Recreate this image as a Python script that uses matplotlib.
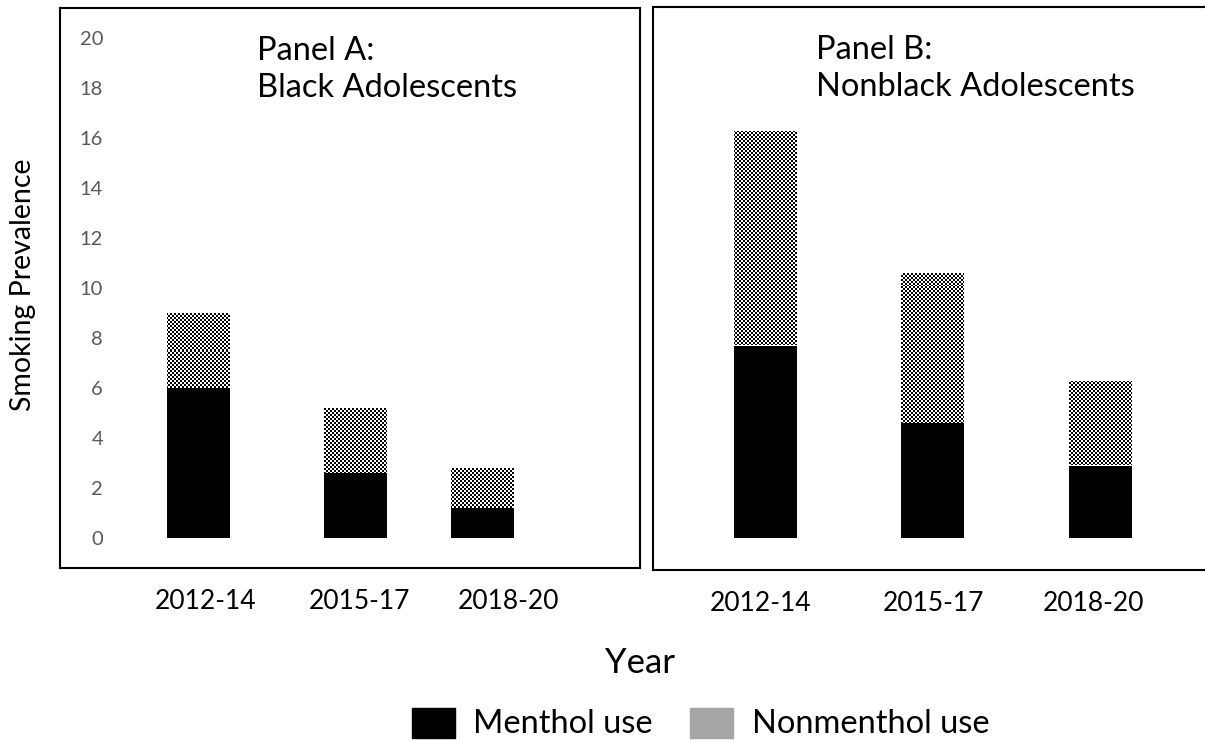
import numpy as np
import matplotlib
matplotlib.use("Agg")
import matplotlib.pyplot as plt
from matplotlib.patches import Rectangle

plt.rcParams['font.family'] = ['Lato', 'DejaVu Sans']

# ---------------- data ----------------
periods = ["2012-14", "2015-17", "2018-20"]
black_menthol = [6.0, 2.6, 1.2]
black_nonmenthol = [3.0, 2.6, 1.6]
nonblack_menthol = [7.7, 4.6, 2.9]
nonblack_nonmenthol = [8.6, 6.0, 3.4]
yticks = [0, 2, 4, 6, 8, 10, 12, 14, 16, 18, 20]
panel_a_title = "Panel A:\nBlack Adolescents"
panel_b_title = "Panel B:\nNonblack Adolescents"
y_label = "Smoking Prevalence"
x_label = "Year"
legend_labels = ["Menthol use", "Nonmenthol use"]

# ---------------- layout ----------------
W, H, DPI = 1205, 740, 100
fig = plt.figure(figsize=(W / DPI, H / DPI), dpi=DPI)


def fr(x0, y_top, x1, y_bot):
    return [x0 / W, (H - y_bot) / H, (x1 - x0) / W, (y_bot - y_top) / H]


axA = fig.add_axes(fr(60, 8, 640, 568))
axB = fig.add_axes(fr(653, 7, 1215, 570))

posA = [0.0, 1.0, 1.81]
labA = [0.045, 1.03, 1.98]
posB = [0.0, 1.0, 2.0]
labB = [-0.024, 1.003, 1.96]

checker_cell = 2  # px


def checker(ax):
    fig.canvas.draw()
    bb = ax.get_window_extent()
    nx = int(round(bb.width / checker_cell))
    ny = int(round(bb.height / checker_cell))
    i, j = np.indices((ny, nx))
    return ((i + j) % 2).astype(float)


def draw_panel(ax, pos, labpos, menthol, nonmenthol, unit_px, xl, yl, title, title_x):
    ax.set_xlim(*xl)
    ax.set_ylim(*yl)
    width = 63 / unit_px
    ax.bar(pos, menthol, width=width, color="black", edgecolor="none", zorder=2)
    tops = ax.bar(pos, nonmenthol, bottom=menthol, width=width, color="white",
                  edgecolor="none", zorder=2)
    img = checker(ax)
    for p in tops.patches:
        im = ax.imshow(img, cmap="gray", vmin=0, vmax=1, interpolation="nearest",
                       extent=[xl[0], xl[1], yl[0], yl[1]], aspect="auto", zorder=3)
        im.set_clip_path(p)
    ax.set_xlim(*xl)
    ax.set_ylim(*yl)
    for s in ax.spines.values():
        s.set_linewidth(1.5)
        s.set_color("black")
    ax.set_xticks(labpos)
    ax.set_xticklabels(periods, fontsize=19, color="black")
    ax.tick_params(axis="x", length=0, pad=15)
    ax.text(title_x, 1 - 28 / 560, title, transform=ax.transAxes, fontsize=23.5,
            va="top", ha="left", linespacing=1.3)


draw_panel(axA, posA, labA, black_menthol, black_nonmenthol, 157,
           (-138 / 157, 442 / 157), (-1.2, 21.2), panel_a_title, (257 - 60) / 580)
draw_panel(axB, posB, labB, nonblack_menthol, nonblack_nonmenthol, 167.5,
           (-112 / 167.5, 450 / 167.5), (-1.28, 21.24), panel_b_title, (816 - 653) / 562)

axA.set_yticks(yticks)
axA.set_yticklabels([str(v) for v in yticks], fontsize=14.5, color="#595959")
axA.tick_params(axis="y", length=0, pad=-31)
axB.set_yticks([])

fig.text(23 / W, 1 - 285 / H, y_label, rotation=90, ha="center", va="center",
         fontsize=20.5)
fig.text(640 / W, 1 - 663 / H, x_label, ha="center", va="center", fontsize=25)

# legend
fig.patches.append(Rectangle((412 / W, 1 - 738 / H), 43 / W, 30 / H,
                             transform=fig.transFigure, color="black"))
fig.patches.append(Rectangle((690 / W, 1 - 738 / H), 43 / W, 30 / H,
                             transform=fig.transFigure, color="#A6A6A6"))
fig.text(473 / W, 1 - 724 / H, legend_labels[0], ha="left", va="center", fontsize=23.5)
fig.text(752 / W, 1 - 724 / H, legend_labels[1], ha="left", va="center", fontsize=23.5)

fig.savefig("out.png", dpi=DPI)
